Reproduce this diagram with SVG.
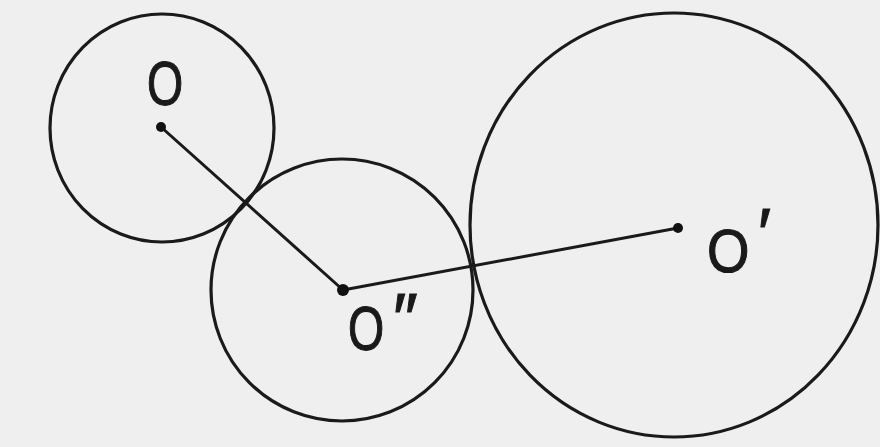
<svg xmlns="http://www.w3.org/2000/svg" width="880" height="447" viewBox="0 0 880 447">
<style>
.c{fill:none;stroke:#1a1a1a;stroke-width:3.2}
.l{stroke:#1a1a1a;stroke-width:3;stroke-linecap:round}
.d{fill:#111}
.t{font-family:"Liberation Sans",Arial,sans-serif;font-size:62px;fill:#1a1a1a;stroke:#1a1a1a;stroke-width:1.2}
.p{font-family:"Liberation Sans",Arial,sans-serif;font-size:70px;fill:#1a1a1a;stroke:#1a1a1a;stroke-width:1}
</style>
<rect width="880" height="447" fill="#efefef"/>
<g id="connectors">
<line class="l" x1="161" y1="127" x2="343" y2="290"/>
<line class="l" x1="343" y1="290" x2="678" y2="228"/>
</g>
<g id="circle-O">
<ellipse class="c" cx="162" cy="128" rx="112" ry="114"/>
<circle class="d" cx="161" cy="127" r="5"/>
<text class="t" transform="translate(147,105) scale(0.75,1)">O</text>
</g>
<g id="circle-O2">
<ellipse class="c" cx="342" cy="290" rx="131" ry="131"/>
<circle class="d" cx="343" cy="290" r="6"/>
<text class="t" transform="translate(348,350) scale(0.75,1)">O</text>
<text class="p" x="393" y="343">″</text>
</g>
<g id="circle-O1">
<ellipse class="c" cx="674" cy="225" rx="204" ry="212"/>
<circle class="d" cx="678" cy="228" r="5"/>
<text class="t" transform="translate(707,272) scale(0.88,1)">O</text>
<text class="p" x="758" y="258">′</text>
</g>
</svg>
